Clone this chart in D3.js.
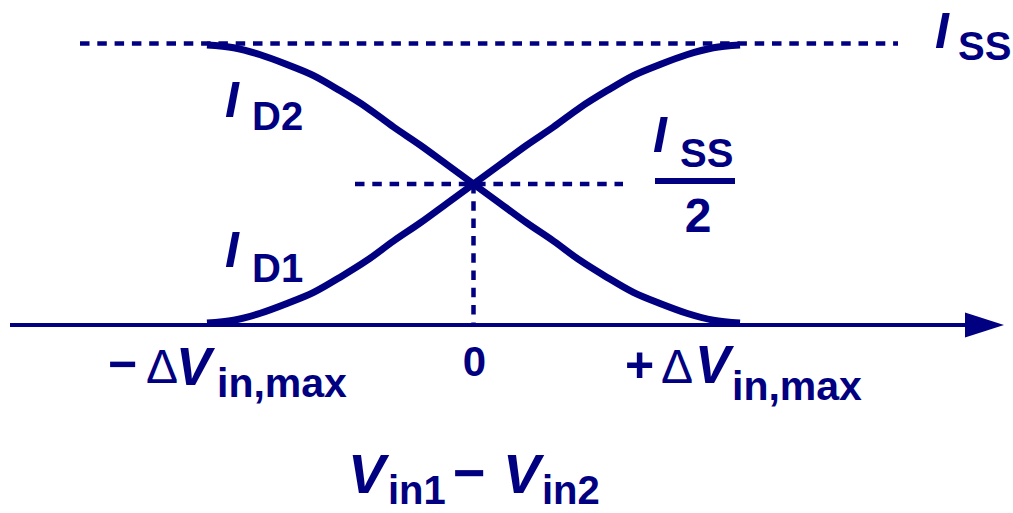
<!DOCTYPE html>
<html>
<head>
<meta charset="utf-8">
<script src="https://cdn.jsdelivr.net/npm/d3@7"></script>
<style>
  html, body { margin: 0; padding: 0; background: #ffffff; }
  svg { display: block; }
  text { font-family: "Liberation Sans", Arial, sans-serif; fill: #000080; }
</style>
</head>
<body>
<svg id="chart" width="1013" height="513"></svg>
<script>
// Differential input voltage, in units of ΔV_in,max
const deltaV = [-1, -0.9, -0.8, -0.7, -0.6, -0.5, -0.4, -0.3, -0.2, -0.1, 0,
                0.1, 0.2, 0.3, 0.4, 0.5, 0.6, 0.7, 0.8, 0.9, 1];
// Drain currents, as a fraction of I_SS
const iD1 = [0, 0.01, 0.035, 0.07, 0.11, 0.165, 0.225, 0.295, 0.36, 0.43, 0.5,
             0.57, 0.64, 0.705, 0.775, 0.835, 0.89, 0.93, 0.965, 0.99, 1];
const iD2 = [1, 0.99, 0.965, 0.93, 0.89, 0.835, 0.775, 0.705, 0.64, 0.57, 0.5,
             0.43, 0.36, 0.295, 0.225, 0.165, 0.11, 0.07, 0.035, 0.01, 0];
// Reference levels on the current axis
const levels = [1, 0.5];
// Tick positions on the voltage axis
const xTicks = [-1, 0, 1];

const navy = "#000080";
const svg = d3.select("#chart");

const x = d3.scaleLinear().domain([-1, 1]).range([207, 740]);
const y = d3.scaleLinear().domain([0, 1]).range([323, 45]);

const axisY = y(0) + 2;
const dash = "9.5 7.8";

// Dashed reference lines: I_SS and I_SS/2, plus the drop to zero
svg.append("line")
  .attr("x1", 80).attr("x2", 898)
  .attr("y1", y(levels[0]) - 1.5).attr("y2", y(levels[0]) - 1.5)
  .attr("stroke", navy).attr("stroke-width", 4.5).attr("stroke-dasharray", dash);
svg.append("line")
  .attr("x1", 355).attr("x2", 623)
  .attr("y1", y(levels[1])).attr("y2", y(levels[1]))
  .attr("stroke", navy).attr("stroke-width", 4.5).attr("stroke-dasharray", dash);
svg.append("line")
  .attr("x1", x(xTicks[1])).attr("x2", x(xTicks[1]))
  .attr("y1", y(levels[1])).attr("y2", axisY)
  .attr("stroke", navy).attr("stroke-width", 4.5).attr("stroke-dasharray", dash);

// Horizontal axis with arrowhead
svg.append("line")
  .attr("x1", 10).attr("x2", 970)
  .attr("y1", axisY).attr("y2", axisY)
  .attr("stroke", navy).attr("stroke-width", 4);
svg.append("path")
  .attr("d", `M965,${axisY - 12.5} L1004,${axisY} L965,${axisY + 12.5} Z`)
  .attr("fill", navy);

// Drain current curves
const line = d3.line()
  .x((d, i) => x(deltaV[i]))
  .y(d => y(d))
  .curve(d3.curveMonotoneX);

[iD1, iD2].forEach(series => {
  svg.append("path")
    .attr("d", line(series))
    .attr("fill", "none")
    .attr("stroke", navy)
    .attr("stroke-width", 7)
    .attr("stroke-linecap", "butt");
});

// Helper: label made of positioned runs
function label(runs) {
  const t = svg.append("text");
  runs.forEach(r => {
    t.append("tspan")
      .attr("x", r.x).attr("y", r.y)
      .attr("font-size", r.size)
      .attr("font-weight", r.weight || "bold")
      .attr("font-style", r.italic ? "italic" : "normal")
      .attr("text-anchor", r.anchor || "start")
      .text(r.text);
  });
  return t;
}

// Current labels
label([{ text: "I", x: 935, y: 48, size: 50, italic: true },
       { text: "SS", x: 958, y: 60, size: 40 }]);
label([{ text: "I", x: 225, y: 117, size: 50, italic: true },
       { text: "D2", x: 252, y: 130, size: 40 }]);
label([{ text: "I", x: 225, y: 267, size: 50, italic: true },
       { text: "D1", x: 252, y: 282, size: 40 }]);

// I_SS / 2 fraction
label([{ text: "I", x: 653, y: 152, size: 50, italic: true },
       { text: "SS", x: 680, y: 167, size: 40 }]);
svg.append("rect")
  .attr("x", 655).attr("y", 178).attr("width", 80).attr("height", 6)
  .attr("fill", navy);
label([{ text: "2", x: 698, y: 232, size: 48, anchor: "middle" }]);

// Tick labels on the voltage axis
label([{ text: "\u2212", x: x(xTicks[0]) - 99, y: 381, size: 50 },
       { text: "\u0394", x: x(xTicks[0]) - 61, y: 383, size: 48, weight: "normal" },
       { text: "V", x: x(xTicks[0]) - 31, y: 385, size: 53, italic: true },
       { text: "in,max", x: x(xTicks[0]) + 10, y: 397, size: 41 }]);
label([{ text: "0", x: x(xTicks[1]) + 1, y: 376, size: 42, anchor: "middle" }]);
label([{ text: "+", x: x(xTicks[2]) - 115, y: 382, size: 50 },
       { text: "\u0394", x: x(xTicks[2]) - 79, y: 383, size: 48, weight: "normal" },
       { text: "V", x: x(xTicks[2]) - 45, y: 383, size: 53, italic: true },
       { text: "in,max", x: x(xTicks[2]) - 8, y: 400, size: 41 }]);

// Axis title: V_in1 − V_in2
label([{ text: "V", x: 348, y: 493, size: 56, italic: true },
       { text: "in1", x: 388, y: 504, size: 40 },
       { text: "\u2212", x: 453, y: 492, size: 56 },
       { text: "V", x: 503, y: 493, size: 56, italic: true },
       { text: "in2", x: 542, y: 504, size: 40 }]);
</script>
</body>
</html>
